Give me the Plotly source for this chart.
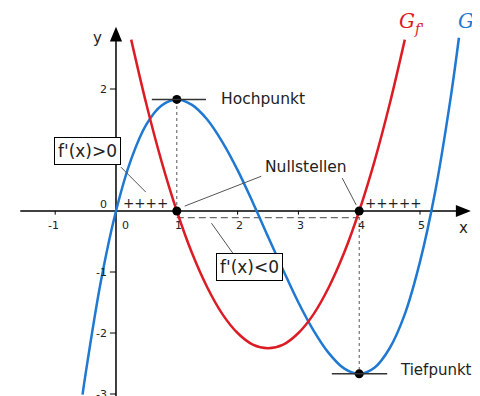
import plotly.graph_objects as go

# ---- data ----
f_x = [-0.55, -0.5, -0.25, 0, 0.25, 0.5, 0.75, 1, 1.25, 1.5, 1.75, 2, 2.25, 2.5, 2.75,
       3, 3.25, 3.5, 3.75, 4, 4.25, 4.5, 4.75, 5, 5.25, 5.5, 5.64]
f_y = [-3.01, -2.67, -1.16, 0, 0.85, 1.42, 1.73, 1.83, 1.74, 1.5, 1.13, 0.67, 0.14, -0.42, -0.97,
       -1.5, -1.96, -2.33, -2.58, -2.67, -2.57, -2.25, -1.69, -0.83, 0.32, 1.83, 2.84]
df_x = [0.25, 0.5, 0.75, 1, 1.25, 1.5, 1.75, 2, 2.25, 2.5, 2.75, 3, 3.25, 3.5, 3.75, 4, 4.25, 4.5, 4.75]
df_y = [2.81, 1.75, 0.81, 0, -0.69, -1.25, -1.69, -2.0, -2.19, -2.25, -2.19, -2.0, -1.69, -1.25,
        -0.69, 0, 0.81, 1.75, 2.81]
x_ticks = [-1, 1, 2, 3, 4, 5]
x_tick_labels = ["-1", "1", "2", "3", "4", "5"]
y_ticks = [-3, -2, -1, 2]          # the tick at 1 is hidden behind the f'(x)>0 box
y_tick_labels = ["-3", "-2", "-1", "2"]
hoch = (1, 1.83)
tief = (4, -2.67)
nullstellen_x = [1, 4]

RED = "#dc1c24"
BLUE = "#1f78d1"
GREY = "#444444"
FONT = "DejaVu Sans"

# page has an 8px body margin -> shift ranges to compensate
X0, X1 = -1.776, 6.118
Y0, Y1 = -3.164, 3.328

fig = go.Figure()

shapes = []
shapes.append(dict(type="line", x0=-1.574, x1=5.7, y0=0, y1=0, line=dict(color="black", width=1.5), layer="below"))
shapes.append(dict(type="line", x0=0, x1=0, y0=-3.3, y1=2.85, line=dict(color="black", width=1.5), layer="below"))
shapes.append(dict(type="path", path="M 5.836 0 L 5.59 0.1 L 5.59 -0.1 Z", fillcolor="black", line=dict(width=0)))
shapes.append(dict(type="path", path="M 0 3.02 L -0.1 2.78 L 0.1 2.78 Z", fillcolor="black", line=dict(width=0)))
for t in x_ticks:
    shapes.append(dict(type="line", x0=t, x1=t, y0=0, y1=-0.06, line=dict(color="black", width=1), layer="below"))
for t in y_ticks:
    shapes.append(dict(type="line", x0=-0.1, x1=0, y0=t, y1=t, line=dict(color="black", width=1), layer="below"))
shapes.append(dict(type="line", x0=hoch[0], x1=hoch[0], y0=0, y1=hoch[1], line=dict(color="#555", width=1, dash="dot"), layer="below"))
shapes.append(dict(type="line", x0=tief[0], x1=tief[0], y0=0, y1=tief[1], line=dict(color="#555", width=1, dash="dot"), layer="below"))
shapes.append(dict(type="line", x0=1, x1=4, y0=-0.11, y1=-0.11, line=dict(color=GREY, width=1, dash="7px,4px"), layer="below"))
shapes.append(dict(type="line", x0=0.59, x1=1.48, y0=hoch[1], y1=hoch[1], line=dict(color="#333", width=1.5)))
shapes.append(dict(type="line", x0=3.55, x1=4.46, y0=tief[1], y1=tief[1], line=dict(color="#333", width=1.5)))
for (a, b, c, d) in [(0.08, 0.72, 0.49, 0.31), (2.39, 0.57, 1.13, 0.08), (3.72, 0.54, 3.95, 0.1), (1.92, -0.69, 1.57, -0.2)]:
    shapes.append(dict(type="line", x0=a, y0=b, x1=c, y1=d, line=dict(color="#555", width=1)))

fig.add_trace(go.Scatter(x=f_x, y=f_y, mode="lines", line=dict(color=BLUE, width=2.5, shape="spline"), hoverinfo="skip"))
fig.add_trace(go.Scatter(x=df_x, y=df_y, mode="lines", line=dict(color=RED, width=2.5, shape="spline"), hoverinfo="skip"))
fig.add_trace(go.Scatter(x=[hoch[0], tief[0]] + nullstellen_x, y=[hoch[1], tief[1], 0, 0], mode="markers",
                         marker=dict(color="black", size=9), hoverinfo="skip"))

ann = []
tf = dict(family=FONT, size=11, color="#222")
for t, l in zip(x_ticks, x_tick_labels):
    ann.append(dict(x=t + (0.03 if t > 0 else -0.03), y=-0.23, text=l, showarrow=False, font=tf, xanchor="center", yanchor="middle"))
ann.append(dict(x=0.16, y=-0.23, text="0", showarrow=False, font=tf, xanchor="center", yanchor="middle"))
for t, l in zip(y_ticks, y_tick_labels):
    ann.append(dict(x=-0.12, y=t, text=l, showarrow=False, font=tf, xanchor="right", yanchor="middle"))
ann.append(dict(x=-0.12, y=0.1, text="0", showarrow=False, font=tf, xanchor="right", yanchor="middle"))
ann.append(dict(x=5.72, y=-0.28, text="x", showarrow=False, font=dict(family=FONT, size=15, color="#222")))
ann.append(dict(x=-0.31, y=2.84, text="y", showarrow=False, font=dict(family=FONT, size=15, color="#222")))
lf = dict(family=FONT, size=15.5, color="#222")
ann.append(dict(x=1.69, y=1.84, text="Hochpunkt", showarrow=False, font=lf, xanchor="left", yanchor="middle"))
ann.append(dict(x=4.64, y=-2.6, text="Tiefpunkt", showarrow=False, font=dict(lf, size=15), xanchor="left", yanchor="middle"))
ann.append(dict(x=3.13, y=0.72, text="Nullstellen", showarrow=False, font=lf, xanchor="center", yanchor="middle"))
ann.append(dict(x=0.48, y=0.13, text="++++", showarrow=False, font=dict(family=FONT, size=13.5, color="#222")))
ann.append(dict(x=4.57, y=0.13, text="+++++", showarrow=False, font=dict(family=FONT, size=13.5, color="#222")))
bf = dict(family=FONT, size=17, color="#222")
ann.append(dict(x=-0.47, y=0.99, text="f'(x)>0", showarrow=False, font=bf, bgcolor="white",
                bordercolor="black", borderwidth=1, borderpad=3))
ann.append(dict(x=2.2, y=-0.92, text="f'(x)<0", showarrow=False, font=bf, bgcolor="white",
                bordercolor="black", borderwidth=1, borderpad=3))
gf = dict(family="DejaVu Serif", size=20)
sf = dict(family="DejaVu Serif", size=14)
ann.append(dict(x=4.62, y=3.12, text="<i>G</i>", showarrow=False, font=dict(gf, color=RED), xanchor="left", yanchor="middle"))
ann.append(dict(x=4.87, y=2.98, text="<i>f'</i>", showarrow=False, font=dict(sf, color=RED), xanchor="left", yanchor="middle"))
ann.append(dict(x=5.59, y=3.12, text="<i>G</i>", showarrow=False, font=dict(gf, color=BLUE), xanchor="left", yanchor="middle"))
ann.append(dict(x=5.82, y=2.98, text="<i>f</i>", showarrow=False, font=dict(sf, color=BLUE), xanchor="left", yanchor="middle"))

fig.update_layout(
    width=480, height=396, autosize=False,
    margin=dict(l=0, r=0, t=0, b=0),
    paper_bgcolor="white", plot_bgcolor="white",
    showlegend=False,
    xaxis=dict(range=[X0, X1], visible=False, fixedrange=True),
    yaxis=dict(range=[Y0, Y1], visible=False, fixedrange=True),
    shapes=shapes, annotations=ann,
)
fig.write_html("out.html", post_script="document.documentElement.style.overflow='hidden';")
